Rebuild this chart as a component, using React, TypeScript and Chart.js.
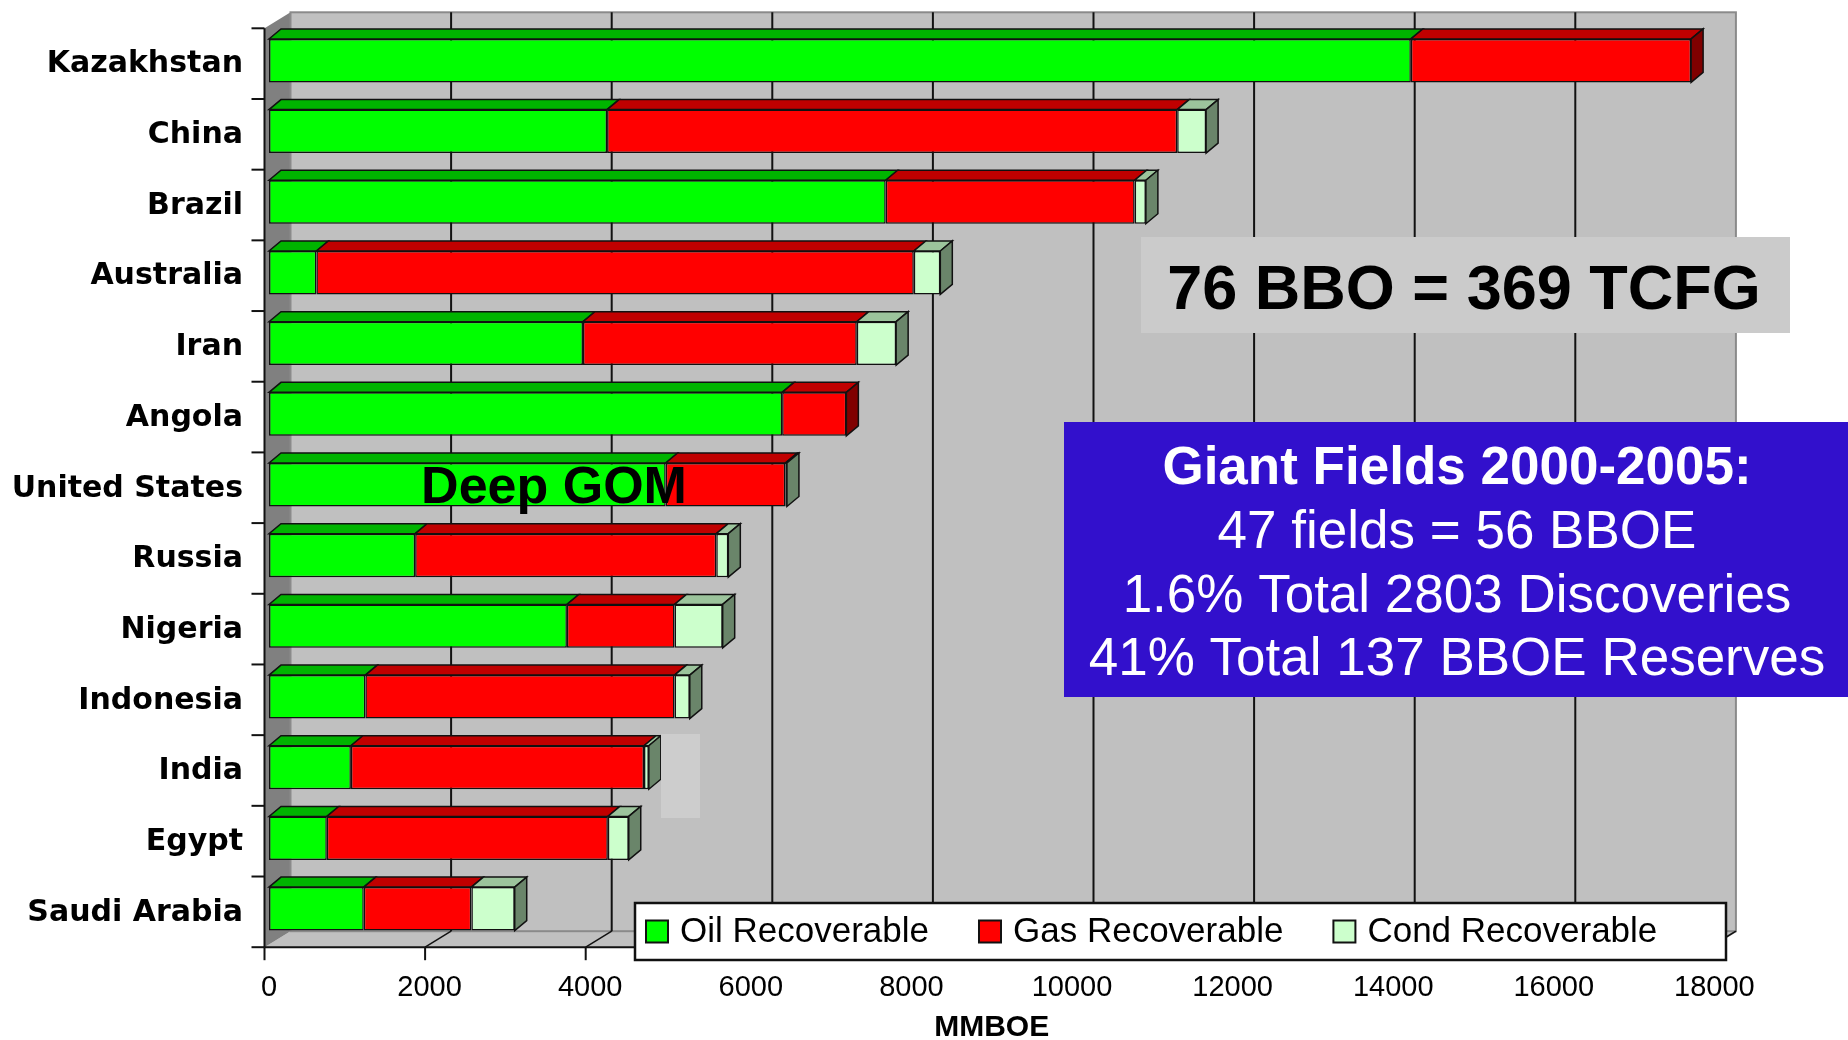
import React, { useEffect, useRef } from "react";
import { Chart, registerables } from "chart.js";

Chart.register(...registerables);

// ---------------- data ----------------
const COUNTRIES = [
  "Kazakhstan",
  "China",
  "Brazil",
  "Australia",
  "Iran",
  "Angola",
  "United States",
  "Russia",
  "Nigeria",
  "Indonesia",
  "India",
  "Egypt",
  "Saudi Arabia",
];
const OIL = [14220, 4210, 7680, 590, 3910, 6390, 4940, 1820, 3710, 1200, 1020, 720, 1180];
const GAS = [3490, 7100, 3100, 7440, 3410, 800, 1490, 3750, 1340, 3850, 3650, 3500, 1340];
const COND = [0, 360, 140, 330, 490, 0, 20, 150, 600, 190, 60, 260, 540];
const SERIES_NAMES = ["Oil Recoverable", "Gas Recoverable", "Cond Recoverable"];
const X_TICKS = [0, 2000, 4000, 6000, 8000, 10000, 12000, 14000, 16000, 18000];
const X_TITLE = "MMBOE";
const NOTE_TEXT = "76 BBO = 369 TCFG";
const SUMMARY_TITLE = "Giant Fields 2000-2005:";
const SUMMARY_LINES = ["47 fields = 56 BBOE", "1.6% Total 2803 Discoveries", "41% Total 137 BBOE Reserves"];
const CALLOUT = "Deep GOM";

// ---------------- styles ----------------
const FRONT_COLORS = ["#00ff00", "#ff0000", "#ccffcc"];
const TOP_COLORS = ["#00b400", "#c00000", "#9cc49c"];
const SIDE_COLORS = ["#008000", "#800000", "#6a856a"];

const FRONT = { dx: -4.5, dy: 3 }; // bar plane -> front plane
const WALL = { dx: 26, dy: -16 }; // front plane -> back wall
const BAR = { dx: 12, dy: -10 }; // bar depth

const SANS = "'Liberation Sans', Arial, sans-serif";

function poly(ctx: CanvasRenderingContext2D, pts: number[][], fill?: string, stroke?: string, lw = 1) {
  ctx.beginPath();
  ctx.moveTo(pts[0][0], pts[0][1]);
  for (let i = 1; i < pts.length; i++) ctx.lineTo(pts[i][0], pts[i][1]);
  ctx.closePath();
  if (fill) {
    ctx.fillStyle = fill;
    ctx.fill();
  }
  if (stroke) {
    ctx.strokeStyle = stroke;
    ctx.lineWidth = lw;
    ctx.stroke();
  }
}

function line(ctx: CanvasRenderingContext2D, x1: number, y1: number, x2: number, y2: number, color: string, lw: number) {
  ctx.beginPath();
  ctx.moveTo(x1, y1);
  ctx.lineTo(x2, y2);
  ctx.strokeStyle = color;
  ctx.lineWidth = lw;
  ctx.stroke();
}

const threeDPlugin = {
  id: "threeD",
  beforeDatasetsDraw(chart: any) {
    const { ctx, chartArea: a, scales } = chart;
    const xs = scales.x;
    const ys = scales.y;
    const fl = a.left + FRONT.dx;
    const fr = a.right + FRONT.dx;
    const ft = a.top + FRONT.dy;
    const fb = a.bottom + FRONT.dy;
    const bl = fl + WALL.dx;
    const br = fr + WALL.dx;
    const bt = ft + WALL.dy;
    const bb = fb + WALL.dy;
    ctx.save();
    // back wall
    ctx.fillStyle = "#c0c0c0";
    ctx.fillRect(bl, bt, br - bl, bb - bt);
    // floor
    poly(ctx, [[fl, fb], [fr, fb], [br, bb], [bl, bb]], "#c0c0c0");
    // left wall
    poly(ctx, [[fl, ft], [bl, bt], [bl, bb], [fl, fb]], "#808080");
    // back wall border
    ctx.strokeStyle = "#8a8a8a";
    ctx.lineWidth = 2;
    ctx.strokeRect(bl, bt, br - bl, bb - bt);
    line(ctx, fr, fb, br, bb, "#8a8a8a", 2);
    // grid lines on back wall + floor
    X_TICKS.forEach((v) => {
      const px = xs.getPixelForValue(v) + FRONT.dx;
      if (v > X_TICKS[0] && v < X_TICKS[X_TICKS.length - 1]) {
        line(ctx, px + WALL.dx, bt, px + WALL.dx, bb, "#111", 2);
      }
      if (v > X_TICKS[0]) line(ctx, px, fb, px + WALL.dx, bb, "#111", 1.5);
      // tick marks below front floor edge
      line(ctx, px, fb, px, fb + 13, "#111", 2);
    });
    // front axis lines
    line(ctx, fl, ft, fl, fb, "#111", 2);
    line(ctx, fl, fb, fr, fb, "#111", 2);
    // category tick marks
    const n = COUNTRIES.length;
    for (let i = 0; i <= n; i++) {
      let yy;
      if (i === 0) yy = ft;
      else if (i === n) yy = fb;
      else yy = (ys.getPixelForValue(i - 1) + ys.getPixelForValue(i)) / 2 + FRONT.dy;
      line(ctx, fl - 13, yy, fl, yy, "#111", 2);
    }
    ctx.restore();
  },
  afterDatasetsDraw(chart: any) {
    const { ctx } = chart;
    const metas = chart.data.datasets.map((_: any, k: number) => chart.getDatasetMeta(k));
    ctx.save();
    ctx.lineJoin = "miter";
    COUNTRIES.forEach((_, i) => {
      let last = -1;
      chart.data.datasets.forEach((ds: any, k: number) => {
        if (ds.data[i] > 0) last = k;
      });
      chart.data.datasets.forEach((ds: any, k: number) => {
        if (!(ds.data[i] > 0)) return;
        const el = metas[k].data[i];
        const left = Math.min(el.base, el.x);
        const right = Math.max(el.base, el.x);
        const top = el.y - el.height / 2;
        const bottom = el.y + el.height / 2;
        poly(
          ctx,
          [[left, top], [right, top], [right + BAR.dx, top + BAR.dy], [left + BAR.dx, top + BAR.dy]],
          TOP_COLORS[k],
          "#111",
          1.5
        );
        if (k === last) {
          poly(
            ctx,
            [[right, top], [right + BAR.dx, top + BAR.dy], [right + BAR.dx, bottom + BAR.dy], [right, bottom]],
            SIDE_COLORS[k],
            "#111",
            1.5
          );
        }
      });
    });
    ctx.restore();
  },
  afterDraw(chart: any) {
    const { ctx } = chart;
    ctx.save();
    // stray light patch near India bar
    ctx.fillStyle = "#cdcdcd";
    ctx.fillRect(661, 734, 39, 84);

    // callout text
    ctx.fillStyle = "#000";
    ctx.textAlign = "center";
    ctx.textBaseline = "alphabetic";
    ctx.font = `bold 52px ${SANS}`;
    ctx.fillText(CALLOUT, 554, 503);

    // grey note box
    ctx.fillStyle = "#cbcbcb";
    ctx.fillRect(1141, 237, 649, 96);
    ctx.fillStyle = "#000";
    ctx.font = `bold 63px ${SANS}`;
    ctx.fillText(NOTE_TEXT, 1464, 309);

    // blue summary box
    ctx.fillStyle = "#3210cc";
    ctx.fillRect(1064, 422, 784, 275);
    ctx.fillStyle = "#ffffff";
    ctx.font = `bold 53px ${SANS}`;
    ctx.fillText(SUMMARY_TITLE, 1457, 484);
    ctx.font = `53px ${SANS}`;
    const baselines = [548, 612, 675];
    SUMMARY_LINES.forEach((t, i) => ctx.fillText(t, 1457, baselines[i]));

    // legend
    const lx = 635, ly = 903, lw = 1091, lh = 57;
    ctx.fillStyle = "#ffffff";
    ctx.fillRect(lx, ly, lw, lh);
    ctx.strokeStyle = "#111";
    ctx.lineWidth = 2.5;
    ctx.strokeRect(lx, ly, lw, lh);
    ctx.font = `35px ${SANS}`;
    ctx.textAlign = "left";
    ctx.textBaseline = "middle";
    let cx = lx + 11;
    const cy = ly + lh / 2;
    chart.data.datasets.forEach((ds: any, k: number) => {
      ctx.fillStyle = FRONT_COLORS[k];
      ctx.fillRect(cx, cy - 11, 22, 22);
      ctx.strokeStyle = "#111";
      ctx.lineWidth = 2;
      ctx.strokeRect(cx, cy - 11, 22, 22);
      ctx.fillStyle = "#000";
      ctx.fillText(ds.label, cx + 34, cy + 1);
      cx += 34 + ctx.measureText(ds.label).width + 50;
    });
    ctx.restore();
  },
};

export default function App() {
  const ref = useRef<HTMLCanvasElement>(null);
  useEffect(() => {
    const canvas = ref.current;
    if (!canvas) return;
    const values = [OIL, GAS, COND];
    const chart = new Chart(canvas, {
      type: "bar",
      data: {
        labels: COUNTRIES,
        datasets: SERIES_NAMES.map((name, k) => ({
          label: name,
          data: values[k],
          backgroundColor: FRONT_COLORS[k],
          borderColor: "#111",
          borderWidth: 1.5,
          borderSkipped: false,
          barPercentage: 0.615,
          categoryPercentage: 1,
        })),
      },
      options: {
        indexAxis: "y",
        responsive: false,
        animation: false,
        devicePixelRatio: 1,
        layout: { padding: { left: 0, top: 25.3, right: 133.6, bottom: 0 } },
        plugins: { legend: { display: false }, tooltip: { enabled: false } },
        scales: {
          x: {
            stacked: true,
            min: X_TICKS[0],
            max: X_TICKS[X_TICKS.length - 1],
            grid: { display: false, drawTicks: true, tickLength: 26 },
            border: { display: false },
            afterBuildTicks: (scale: any) => {
              scale.ticks = X_TICKS.map((v) => ({ value: v }));
            },
            afterFit: (scale: any) => {
              scale.height = 95.8;
            },
            ticks: {
              color: "#000",
              padding: 0,
              maxRotation: 0,
              autoSkip: false,
              font: { family: SANS, size: 29 },
              callback: (v: any) => String(v),
            },
            title: {
              display: true,
              text: X_TITLE,
              color: "#000",
              padding: { top: 0, bottom: 0 },
              font: { family: SANS, size: 30, weight: "bold", lineHeight: 0.85 },
            },
          },
          y: {
            stacked: true,
            grid: { display: false, drawTicks: true, tickLength: 26 },
            border: { display: false },
            afterFit: (scale: any) => {
              scale.width = 269;
            },
            ticks: {
              color: "#000",
              padding: 0,
              labelOffset: 4,
              autoSkip: false,
              font: { family: "'DejaVu Sans', Verdana, sans-serif", size: 30, weight: "bold" },
            },
          },
        },
      },
      plugins: [threeDPlugin],
    } as any);
    return () => chart.destroy();
  }, []);

  return (
    <div style={{ position: "absolute", left: 0, top: 0, width: 1848, height: 1040, background: "#ffffff" }}>
      <canvas ref={ref} width={1848} height={1040} style={{ display: "block", width: 1848, height: 1040 }} />
    </div>
  );
}
